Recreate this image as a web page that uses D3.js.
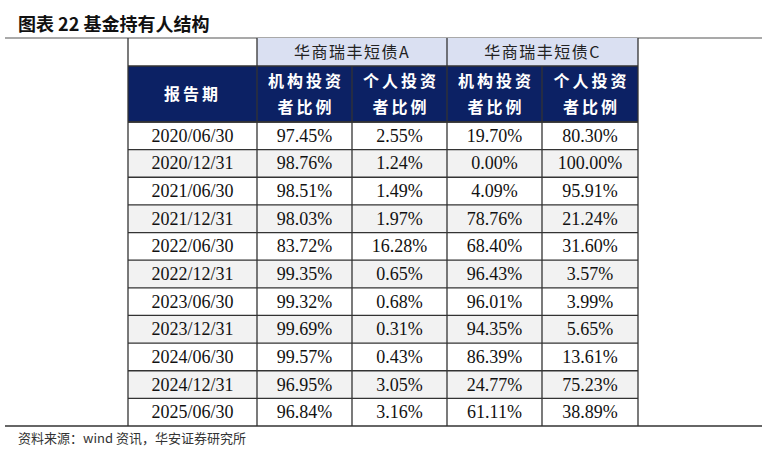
<!DOCTYPE html>
<html><head><meta charset="utf-8">
<script src="https://cdn.jsdelivr.net/npm/d3@7"></script>
<style>body{margin:0;background:#fff}</style>
</head><body>
<svg id="chart" width="767" height="453"></svg>
<script>
const dates = ["2020/06/30","2020/12/31","2021/06/30","2021/12/31","2022/06/30","2022/12/31","2023/06/30","2023/12/31","2024/06/30","2024/12/31","2025/06/30"];
const instA = ["97.45%","98.76%","98.51%","98.03%","83.72%","99.35%","99.32%","99.69%","99.57%","96.95%","96.84%"];
const persA = ["2.55%","1.24%","1.49%","1.97%","16.28%","0.65%","0.68%","0.31%","0.43%","3.05%","3.16%"];
const instC = ["19.70%","0.00%","4.09%","78.76%","68.40%","96.43%","96.01%","94.35%","86.39%","24.77%","61.11%"];
const persC = ["80.30%","100.00%","95.91%","21.24%","31.60%","3.57%","3.99%","5.65%","13.61%","75.23%","38.89%"];
const fundNames = ["华商瑞丰短债A","华商瑞丰短债C"];
const subHeads = [["机构投资","者比例"],["个人投资","者比例"],["机构投资","者比例"],["个人投资","者比例"]];

const svg = d3.select("#chart");
const serif = "'Liberation Serif','DejaVu Serif',serif";
const cjk = "'Noto Sans CJK SC',sans-serif";
const navy = "#0c2164";

svg.append("text").attr("x", 18).attr("y", 31).attr("font-family", cjk)
  .attr("font-weight", "bold").attr("font-size", 18).attr("fill", "#111").text("图表 22 基金持有人结构");
svg.append("line").attr("x1", 5).attr("x2", 762).attr("y1", 38).attr("y2", 38)
  .attr("stroke", "#555").attr("stroke-width", 1.2);

const colEdges = [128, 257, 352, 447, 542, 638];
const colX = i => colEdges[i], colW = i => colEdges[i + 1] - colEdges[i];
const y = d3.scaleBand().domain(d3.range(dates.length)).range([122, 426]);

fundNames.forEach((n, i) => {
  const x0 = colX(1 + i * 2), w = colW(1 + i * 2) + colW(2 + i * 2);
  svg.append("rect").attr("x", x0).attr("y", 38).attr("width", w).attr("height", 28).attr("fill", "#dae0f2");
  svg.append("text").attr("x", x0 + w / 2).attr("y", 58).attr("text-anchor", "middle")
    .attr("font-family", cjk).attr("font-size", 16).attr("letter-spacing", 1.5).attr("fill", "#222").text(n);
});

svg.append("rect").attr("x", 128).attr("y", 66).attr("width", 510).attr("height", 56).attr("fill", navy);
svg.append("text").attr("x", colX(0) + colW(0) / 2).attr("y", 100).attr("text-anchor", "middle")
  .attr("font-family", cjk).attr("font-weight", "bold").attr("font-size", 16).attr("letter-spacing", 3)
  .attr("fill", "#fff").text("报告期");
subHeads.forEach((lines, i) => {
  lines.forEach((t, j) => {
    svg.append("text").attr("x", colX(i + 1) + colW(i + 1) / 2 + 1.5).attr("y", 87 + j * 26).attr("text-anchor", "middle")
      .attr("font-family", cjk).attr("font-weight", "bold").attr("font-size", 16).attr("letter-spacing", 3)
      .attr("fill", "#fff").text(t);
  });
});

const cols = [dates, instA, persA, instC, persC];
dates.forEach((d, r) => {
  svg.append("rect").attr("x", 128).attr("y", y(r)).attr("width", 510).attr("height", y.bandwidth())
    .attr("fill", r % 2 ? "#f2f2f2" : "#fff");
  cols.forEach((c, i) => {
    svg.append("text").attr("x", colX(i) + colW(i) / 2).attr("y", y(r) + y.bandwidth() / 2 + 6)
      .attr("text-anchor", "middle").attr("font-family", serif).attr("font-size", 18).attr("fill", "#111").text(c[r]);
  });
});

const g = svg.append("g").attr("stroke", "#333").attr("stroke-width", 1.3);
colEdges.forEach((cx, i) => {
  const top = (i === 0 || i === 1 || i === 3 || i === 5) ? 38 : 66;
  g.append("line").attr("x1", cx).attr("x2", cx).attr("y1", top).attr("y2", 426);
});
[66, 122].concat(d3.range(dates.length).map(r => y(r))).forEach(yy =>
  g.append("line").attr("x1", 128).attr("x2", 638).attr("y1", yy).attr("y2", yy));
svg.append("line").attr("x1", 5).attr("x2", 762).attr("y1", 426).attr("y2", 426).attr("stroke", "#333").attr("stroke-width", 1.5);

svg.append("text").attr("x", 18).attr("y", 443).attr("font-family", cjk).attr("font-size", 13).attr("fill", "#333")
  .text("资料来源：wind 资讯，华安证券研究所");
</script>
</body></html>
